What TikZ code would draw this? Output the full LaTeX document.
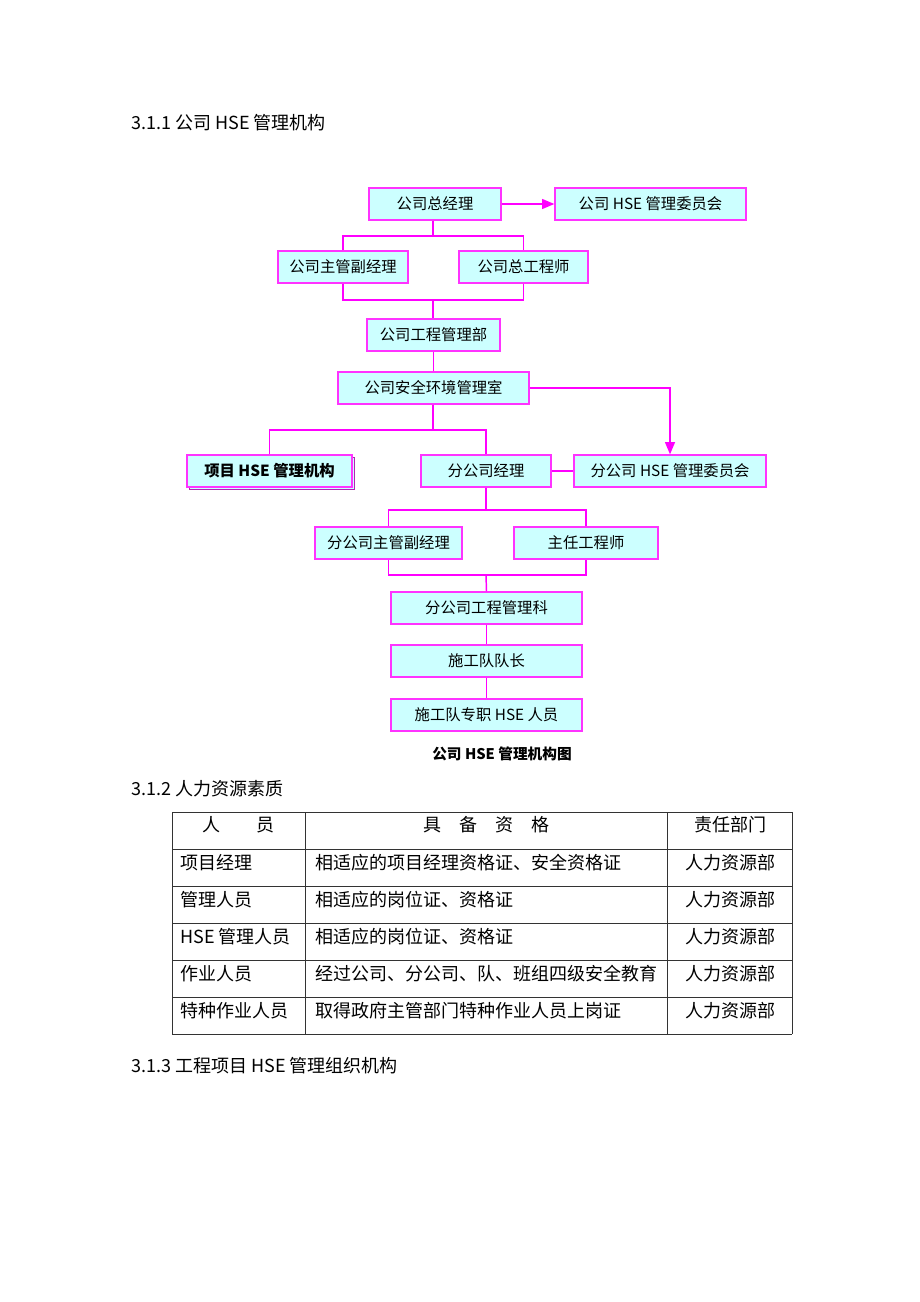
\documentclass[tikz,border=0pt]{standalone}
\usepackage{fontspec}
\setmainfont{Noto Sans CJK SC}
\usetikzlibrary{shapes,arrows,shadows}
\definecolor{hsefill}{HTML}{CCFFFF}
\definecolor{hseline}{HTML}{FF33FF}
\definecolor{hsewire}{HTML}{FF00FF}

\begin{document}
\begin{tikzpicture}[x=0.75pt, y=-0.75pt,
					every node/.style={inner sep=0pt},
					orgbox/.style={draw=hseline, fill=hsefill, line width=1.1pt, minimum height=24pt, font=\fontsize{11.5}{13}\selectfont},
					wd/.style={minimum width=#1*0.75pt},
					wire/.style={draw=hsewire, line width=1.1pt},
					heading/.style={anchor=west, font=\fontsize{13.5}{15}\selectfont},
					tabtext/.style={font=\fontsize{13.5}{15}\selectfont},
					tabrule/.style={draw=black!80, line width=0.7pt}]
	\fill[white] (0,0) rectangle (920,1302);
	\useasboundingbox (0,0) rectangle (920,1302);

	\node[heading] (h1) at (131,123) {3.1.1 公司 HSE 管理机构};

	% company level
	\node[orgbox, wd=132] (zjl) at (435,204) {公司总经理};
	\node[orgbox, wd=191] (gwh) at (650.5,204) {公司 HSE 管理委员会};
	\node[orgbox, wd=130] (fjl) at (343,267) {公司主管副经理};
	\node[orgbox, wd=129] (zgc) at (523.5,267) {公司总工程师};
	\node[orgbox, wd=133] (gcb) at (433.5,335) {公司工程管理部};
	\node[orgbox, wd=191] (aqs) at (433.5,388) {公司安全环境管理室};

	% branch level
	\node[orgbox, wd=165, font=\fontsize{11.5}{13}\selectfont\bfseries,
		general shadow={shadow xshift=1.8pt, shadow yshift=-1.8pt, draw=hseline!70!black, fill=hsefill}] (xm) at (269.5,471) {项目 HSE 管理机构};
	\node[orgbox, wd=130] (fgs) at (486,471) {分公司经理};
	\node[orgbox, wd=192] (fwh) at (670,471) {分公司 HSE 管理委员会};
	\node[orgbox, wd=147] (ffj) at (388.5,543) {分公司主管副经理};
	\node[orgbox, wd=144] (zrg) at (586,543) {主任工程师};
	\node[orgbox, wd=191] (fgk) at (486.5,608) {分公司工程管理科};
	\node[orgbox, wd=191] (dz) at (486.5,661) {施工队队长};
	\node[orgbox, wd=191] (zz) at (486.5,715) {施工队专职 HSE 人员};

	\node[font=\fontsize{11}{13}\selectfont\bfseries] (cap) at (502,754) {公司 HSE 管理机构图};

	% connectors
	\coordinate (b1) at (433,236);
	\coordinate (b2) at (433,300);
	\coordinate (b3) at (433,430);
	\coordinate (b4) at (486,510);
	\coordinate (b5) at (486,575);
	\draw[wire, -triangle 45] (zjl) -- (gwh);
	\draw[wire] (zjl.south -| b1) -- (b1);
	\draw[wire] (fjl.north) |- (b1) -| (zgc.north);
	\draw[wire] (fjl.south) |- (b2) -| (zgc.south);
	\draw[wire] (b2) -- (gcb.north -| b2);
	\draw[wire] (gcb) -- (aqs);
	\draw[wire] (aqs.south -| b3) -- (b3);
	\draw[wire] (xm.north) |- (b3) -| (fgs.north);
	\draw[wire, -triangle 45] (aqs.east) -| (fwh.north);
	\draw[wire] (fgs) -- (fwh);
	\draw[wire] (fgs.south) -- (b4);
	\draw[wire] (ffj.north) |- (b4) -| (zrg.north);
	\draw[wire] (ffj.south) |- (b5) -| (zrg.south);
	\draw[wire] (b5) -- (fgk.north);
	\draw[wire] (fgk) -- (dz);
	\draw[wire] (dz) -- (zz);

	\node[heading] (h2) at (131,789) {3.1.2 人力资源素质};

	% staff table
	\foreach \yy in {812,849,...,1034}
		\draw[tabrule] (172,\yy) -- (792,\yy);
	\foreach \xx in {172,305,667,792}
		\draw[tabrule] (\xx,812) -- (\xx,1034);
	\node[tabtext] (th1) at (238,825) {人\hspace{2em}员};
	\node[tabtext] (th2) at (486,825) {具\quad 备\quad 资\quad 格};
	\node[tabtext] (th3) at (730,825) {责任部门};
	\foreach \yy/\who/\what in {
		863/项目经理/相适应的项目经理资格证、安全资格证,
		900/管理人员/相适应的岗位证、资格证,
		937/HSE 管理人员/相适应的岗位证、资格证,
		974/作业人员/经过公司、分公司、队、班组四级安全教育,
		1011/特种作业人员/取得政府主管部门特种作业人员上岗证}{
		\node[tabtext, anchor=west] at (180,\yy) {\who};
		\node[tabtext, anchor=west] at (315,\yy) {\what};
		\node[tabtext] at (730,\yy) {人力资源部};
	}

	\node[heading] (h3) at (131,1066) {3.1.3 工程项目 HSE 管理组织机构};
\end{tikzpicture}
\end{document}
